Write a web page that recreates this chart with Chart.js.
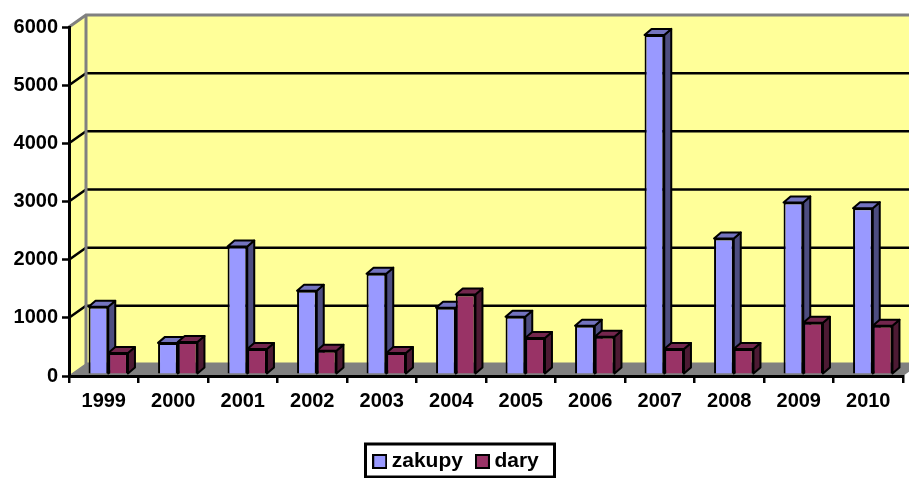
<!DOCTYPE html>
<html><head><meta charset="utf-8">
<style>html,body{margin:0;padding:0;background:#fff}#w{width:909px;height:478px}</style>
<script src="https://cdn.jsdelivr.net/npm/chart.js@4"></script></head>
<body><div id="w"><canvas id="c" width="909" height="478"></canvas></div>
<script>
const categories=['1999','2000','2001','2002','2003','2004','2005','2006','2007','2008','2009','2010'];
const zakupy=[1155,535,2190,1430,1725,1140,985,830,5830,2330,2950,2850];
const dary=[360,550,430,400,360,1365,620,640,430,430,880,830];
const FONT='"Liberation Sans", Arial, sans-serif';
const DX=17,DY=-12,BX=4.5,BY=-2,SX=7,SY=-6;
const fronts=['#9999FF','#993366'];
const shades=[{side:'#4D4D80',top:'#7373BF'},{side:'#4D1A33',top:'#73264D'}];
function swatch(color){
 const c=document.createElement('canvas');c.width=15;c.height=15;
 const x=c.getContext('2d');x.fillStyle=color;x.fillRect(1,1,13,13);
 x.strokeStyle='#000';x.lineWidth=2;x.strokeRect(1,1,13,13);return c;
}
const swatches=fronts.map(swatch);
const scene={id:'scene',
 beforeDraw(ch){
  const {ctx,chartArea:a,scales:{y}}=ch;
  ctx.save();
  ctx.fillStyle='#808080';
  ctx.beginPath();ctx.moveTo(a.left,a.bottom);ctx.lineTo(a.left+DX,a.bottom+DY);ctx.lineTo(a.right+DX,a.bottom+DY);ctx.lineTo(a.right,a.bottom);ctx.closePath();ctx.fill();
  ctx.fillStyle='#FFFF99';
  ctx.fillRect(a.left+DX,a.top+DY,a.right-a.left,a.bottom-a.top);
  ctx.beginPath();ctx.moveTo(a.left,a.top);ctx.lineTo(a.left+DX,a.top+DY);ctx.lineTo(a.left+DX,a.bottom+DY);ctx.lineTo(a.left,a.bottom);ctx.closePath();ctx.fill();
  ctx.strokeStyle='#000';ctx.lineWidth=2.5;
  y.ticks.forEach((t,i)=>{
   if(t.value===0||t.value===y.max)return;
   const p=y.getPixelForTick(i);
   ctx.beginPath();ctx.moveTo(a.left,p);ctx.lineTo(a.left+DX,p+DY);ctx.lineTo(a.right+DX,p+DY);ctx.stroke();
  });
  ctx.strokeStyle='#808080';ctx.lineWidth=3;
  ctx.beginPath();ctx.moveTo(a.left,a.top);ctx.lineTo(a.left+DX,a.top+DY);ctx.lineTo(a.right+DX,a.top+DY);ctx.stroke();
  ctx.beginPath();ctx.moveTo(a.left+DX,a.top+DY);ctx.lineTo(a.left+DX,a.bottom+DY);ctx.lineTo(a.right+DX,a.bottom+DY);ctx.stroke();
  ctx.lineWidth=1.5;
  ctx.beginPath();ctx.moveTo(a.left,a.bottom);ctx.lineTo(a.left+DX,a.bottom+DY);ctx.stroke();
  ctx.restore();
 },
 beforeDatasetsDraw(ch){
  const ctx=ch.ctx;
  ctx.save();ctx.translate(BX,BY);
  [0,1].forEach(d=>{
   ch.getDatasetMeta(d).data.forEach(b=>{
    const w=b.width/2,l=b.x-w,r=b.x+w,t=b.y,bt=b.base;
    ctx.strokeStyle='#000';ctx.lineWidth=2;ctx.lineJoin='round';
    ctx.fillStyle=shades[d].side;
    ctx.beginPath();ctx.moveTo(r,t);ctx.lineTo(r+SX,t+SY);ctx.lineTo(r+SX,bt+SY);ctx.lineTo(r,bt);ctx.closePath();ctx.fill();ctx.stroke();
    ctx.fillStyle=shades[d].top;
    ctx.beginPath();ctx.moveTo(l,t);ctx.lineTo(l+SX,t+SY);ctx.lineTo(r+SX,t+SY);ctx.lineTo(r,t);ctx.closePath();ctx.fill();ctx.stroke();
   });
  });
 },
 afterDatasetsDraw(ch){ch.ctx.restore();},
 afterLayout(ch){
  const L=ch.legend;
  L.left+=7;L.right+=7;L.top+=4;L.bottom+=4;
  L.legendHitBoxes.forEach(h=>{h.left+=7;h.top+=4;});
 },
 afterDraw(ch){
  const ctx=ch.ctx;
  ctx.save();ctx.strokeStyle='#000';ctx.lineWidth=3;
  ctx.strokeRect(365.5,444,189,33);
  ctx.restore();
 }
};
new Chart(document.getElementById('c'),{
 type:'bar',
 data:{labels:categories,datasets:[
  {label:'zakupy',data:zakupy,backgroundColor:fronts[0],borderColor:'#000',borderWidth:2,clip:false,categoryPercentage:0.567,barPercentage:1},
  {label:'dary',data:dary,backgroundColor:fronts[1],borderColor:'#000',borderWidth:2,clip:false,categoryPercentage:0.567,barPercentage:1}
 ]},
 options:{
  responsive:false,animation:false,
  layout:{padding:{top:27,right:6,left:0,bottom:0}},
  plugins:{
   tooltip:{enabled:false},
   legend:{position:'bottom',
    labels:{color:'#000',font:{family:FONT,size:21,weight:'bold'},boxWidth:3,boxHeight:13,padding:18,usePointStyle:true,
     generateLabels(ch){
      return Chart.defaults.plugins.legend.labels.generateLabels(ch).map((it,i)=>Object.assign(it,{pointStyle:swatches[i]}));
     }}
   }
  },
  scales:{
   x:{afterFit(s){s.height=53;},
    grid:{drawOnChartArea:false,tickLength:7,tickColor:'#000',lineWidth:2.5,tickWidth:2.5},
    border:{color:'#000',width:3},
    ticks:{color:'#000',font:{family:FONT,size:20,weight:'bold'},padding:6,maxRotation:0,autoSkip:false}
   },
   y:{min:0,max:6000,afterFit(s){s.width=69;},
    grid:{drawOnChartArea:false,tickLength:7,tickColor:'#000',tickWidth:2.5},
    border:{color:'#000',width:3},
    ticks:{color:'#000',font:{family:FONT,size:20,weight:'bold'},padding:4,stepSize:1000,callback:v=>String(v)}
   }
  }
 },
 plugins:[scene]
});
</script></body></html>
